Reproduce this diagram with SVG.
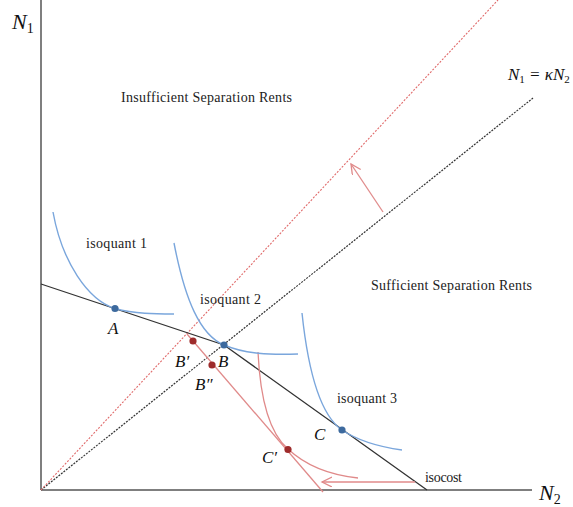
<svg xmlns="http://www.w3.org/2000/svg" width="573" height="507" viewBox="0 0 573 507">
<style>
.axis{stroke:#555;stroke-width:1.5;fill:none}
.iso{stroke:#333;stroke-width:1.3;fill:none}
.ray{stroke:#333;stroke-width:1.2;stroke-dasharray:2,1.2;fill:none}
.rray{stroke:#e06a6a;stroke-width:1.1;stroke-dasharray:2,1.5;fill:none}
.blue{stroke:#7aa6dc;stroke-width:1.4;fill:none}
.red{stroke:#e08a8a;stroke-width:1.3;fill:none}
.bdot{fill:#3d6a9e}
.rdot{fill:#9e2b2b}
.lbl{font-family:"Liberation Serif",serif;font-size:14px;fill:#222}
.math{font-family:"Liberation Serif",serif;font-style:italic;fill:#111}
.sub{font-style:normal}
</style>
<defs>
<marker id="ah" markerWidth="12" markerHeight="12" refX="10" refY="5" orient="auto" markerUnits="userSpaceOnUse">
<path d="M0,0 L10,5 L0,10" fill="none" stroke="#e08a8a" stroke-width="1.3"/>
</marker>
</defs>
<g id="axes">
<line class="axis" x1="41" y1="0" x2="41" y2="490"/>
<line class="axis" x1="41" y1="490" x2="532" y2="490"/>
<text class="math" x="12" y="29" font-size="22">N<tspan class="sub" font-size="14" dy="4">1</tspan></text>
<text class="math" x="539" y="500" font-size="22">N<tspan class="sub" font-size="14" dy="4">2</tspan></text>
</g>
<g id="connectors">
<line class="ray" x1="41" y1="490" x2="533" y2="98"/>
<line class="rray" x1="41" y1="490" x2="498" y2="0"/>
<polyline class="iso" points="41,284 224,345 427,490"/>
<line class="red" x1="187" y1="334" x2="323" y2="492"/>
<path class="red" d="M258,352 C260,395 268,432 288,449 C305,465 330,475 358,478"/>
<line class="red" x1="415" y1="482" x2="322" y2="482" marker-end="url(#ah)"/>
<line class="red" x1="383" y1="212" x2="351" y2="164" marker-end="url(#ah)"/>
</g>
<g id="isoquant1">
<path class="blue" d="M53,212 C62,262 88,300 115,308.5 C135,314 155,314 174,314"/>
<circle class="bdot" cx="115" cy="308.5" r="3.6"/>
<text class="lbl" x="86" y="248" font-size="13" textLength="61">isoquant 1</text>
<text class="math" x="108" y="334" font-size="17">A</text>
</g>
<g id="isoquant2">
<path class="blue" d="M174,243 C185,300 200,335 224,345 C245,354 270,355 298,354"/>
<circle class="bdot" cx="224" cy="345" r="3.6"/>
<text class="lbl" x="200" y="304" font-size="13" textLength="61">isoquant 2</text>
<text class="math" x="218" y="367" font-size="17">B</text>
</g>
<g id="isoquant3">
<path class="blue" d="M302,313 C308,370 320,415 342,430 C360,442 380,447 402,450"/>
<circle class="bdot" cx="342" cy="430" r="3.6"/>
<text class="lbl" x="337" y="403" font-size="13" textLength="60">isoquant 3</text>
<text class="math" x="314" y="440" font-size="17">C</text>
</g>
<g id="Bprime">
<circle class="rdot" cx="193" cy="341" r="3.6"/>
<text class="math" x="175" y="367" font-size="17">B′</text>
</g>
<g id="Bdoubleprime">
<circle class="rdot" cx="212" cy="365" r="3.6"/>
<text class="math" x="195" y="390" font-size="17">B″</text>
</g>
<g id="Cprime">
<circle class="rdot" cx="288" cy="449.5" r="3.6"/>
<text class="math" x="262" y="463" font-size="17">C′</text>
</g>
<g id="labels">
<text class="lbl" x="121" y="102" textLength="171">Insufficient Separation Rents</text>
<text class="lbl" x="371" y="290" textLength="161">Sufficient Separation Rents</text>
<text class="lbl" x="425" y="482" font-size="12" textLength="37">isocost</text>
<text class="math" x="508" y="80" font-size="17">N<tspan class="sub" font-size="11" dy="3">1</tspan><tspan dy="-3"> = κN</tspan><tspan class="sub" font-size="11" dy="3">2</tspan></text>
</g>
</svg>
